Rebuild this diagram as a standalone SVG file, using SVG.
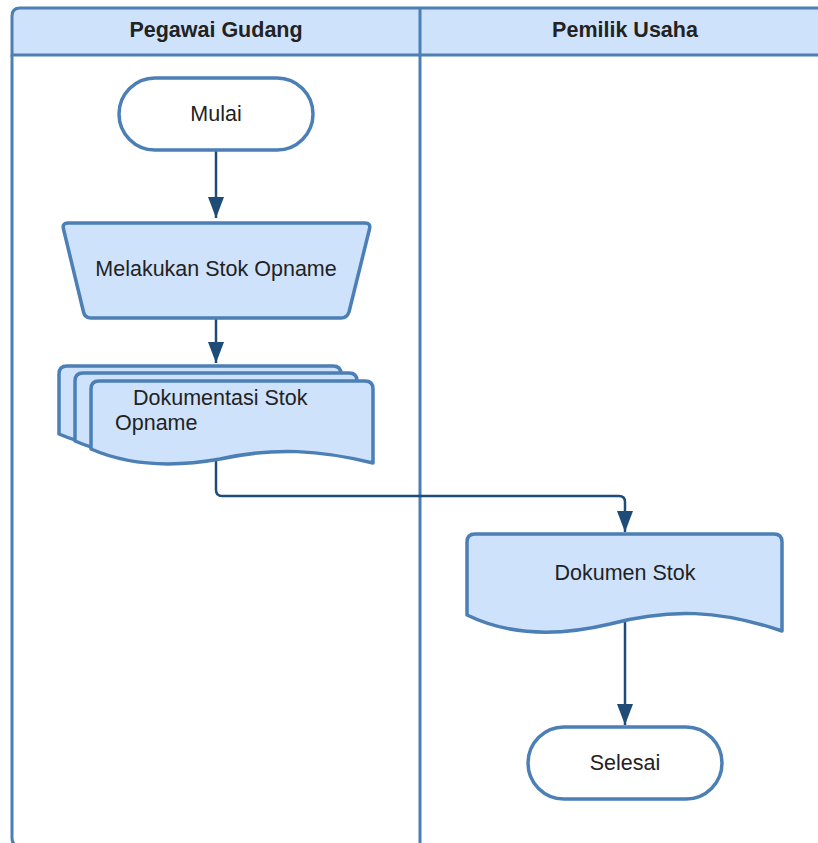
<svg xmlns="http://www.w3.org/2000/svg" width="818" height="843" viewBox="0 0 818 843">
<style>
.pool{fill:none;stroke:#4b7fb5;stroke-width:3}
.hdr{fill:#cfe2fc;stroke:#4b7fb5;stroke-width:3}
.node{fill:#cfe2fc;stroke:#4b7fb5;stroke-width:3.5;stroke-linejoin:round}
.term{fill:#ffffff;stroke:#4b7fb5;stroke-width:3.5}
.t{font-family:"Liberation Sans",Arial,sans-serif;font-size:21.5px;fill:#222222}
.h{font-family:"Liberation Sans",Arial,sans-serif;font-size:21.5px;font-weight:bold;fill:#222222;text-anchor:middle}
.c{text-anchor:middle}
.conn{fill:none;stroke:#1f4b77;stroke-width:2.5;stroke-linejoin:round}
</style>
<defs>
<marker id="arrD" markerUnits="userSpaceOnUse" markerWidth="22" markerHeight="16" viewBox="0 0 22 16" refX="21" refY="8" orient="auto">
<path d="M0,0 L21,8 L0,16 Z" fill="#1f4b77"/>
</marker>
</defs>
<rect width="818" height="843" fill="#ffffff"/>
<g id="pool">
<path class="hdr" d="M12,55 L12,16 Q12,8 20,8 L840,8 L840,55 Z"/>
<path class="pool" d="M12,55 L12,838 Q12,846 20,846 L840,846"/>
<line class="pool" x1="420" y1="8" x2="420" y2="850"/>
<text class="h" x="216" y="37">Pegawai Gudang</text>
<text class="h" x="625" y="37">Pemilik Usaha</text>
</g>
<g id="connectors">
<path class="conn" d="M216,151 L216,218" marker-end="url(#arrD)"/>
<path class="conn" d="M216,318 L216,363" marker-end="url(#arrD)"/>
<path class="conn" d="M216,458 L216,490 Q216,496 222,496 L619,496 Q625,496 625,502 L625,532" marker-end="url(#arrD)"/>
<path class="conn" d="M625,622 L625,725" marker-end="url(#arrD)"/>
</g>
<g id="mulai">
<rect class="term" x="119" y="78" width="194" height="72" rx="36" ry="36"/>
<text class="t c" x="216" y="120.5">Mulai</text>
</g>
<g id="melakukan">
<path class="node" d="M68,223 L365,223 Q371,223 369.5,229 L349,312 Q347,318 341,318 L91,318 Q85,318 83.5,312 L63.5,229 Q62,223 68,223 Z"/>
<text class="t c" x="216" y="275.5">Melakukan Stok Opname</text>
</g>
<g id="dokumentasi">
<path class="node" d="M59,434 L59,374 Q59,366 67,366 L333,366 Q341,366 341,374 L341,448 C288,435 243,432 188,444 C143,452 98,451 59,434 Z"/>
<path class="node" d="M75,441 L75,381 Q75,373 83,373 L349,373 Q357,373 357,381 L357,455 C304,442 259,439 204,451 C159,459 114,458 75,441 Z"/>
<path class="node" d="M91,449 L91,389 Q91,381 99,381 L365,381 Q373,381 373,389 L373,463 C320,450 275,447 220,459 C175,467 130,466 91,449 Z"/>
<text class="t" x="133" y="405">Dokumentasi Stok</text>
<text class="t" x="115" y="430">Opname</text>
</g>
<g id="dokumen">
<path class="node" d="M467,615 L467,542 Q467,534 475,534 L774,534 Q782,534 782,542 L782,631 C720,610 670,608 610,624 C560,636 510,636 467,615 Z"/>
<text class="t c" x="625" y="579.5">Dokumen Stok</text>
</g>
<g id="selesai">
<rect class="term" x="528" y="727" width="194" height="72" rx="36" ry="36"/>
<text class="t c" x="625" y="769.5">Selesai</text>
</g>
</svg>
